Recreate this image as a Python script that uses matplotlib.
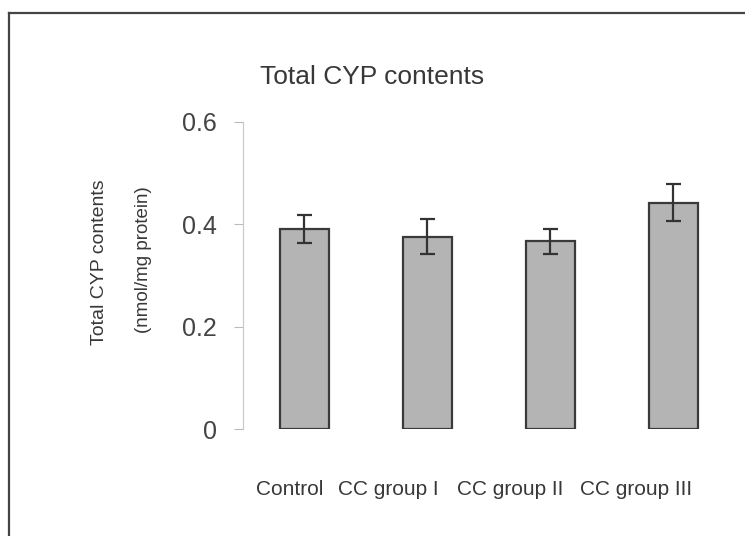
import numpy as np
import matplotlib
matplotlib.use('Agg')
import matplotlib.pyplot as plt
from matplotlib.lines import Line2D

plt.rcParams['font.family'] = ['Liberation Sans', 'DejaVu Sans']

groups = ['Control', 'CC group I', 'CC group II', 'CC group III']
means = [0.391, 0.376, 0.367, 0.442]
errs = [0.028, 0.034, 0.024, 0.036]
yticks = [0, 0.2, 0.4, 0.6]
ytick_labels = ['0', '0.2', '0.4', '0.6']

# label offsets (the category labels sit a bit left of the bars in the original)
label_shift = [-0.12, -0.32, -0.33, -0.30]

txt = '#383838'
fig = plt.figure(figsize=(7.45, 5.36), dpi=100)
ax = fig.add_axes([0.326, 0.1996, 0.6604, 0.5728])

x = np.arange(len(groups))
ax.bar(x, means, width=0.4, color='#b4b4b4', edgecolor='#3a3a3a', linewidth=1.6, zorder=2)
ax.errorbar(x, means, yerr=errs, fmt='none', ecolor='#333333', elinewidth=1.6,
            capsize=5.4, capthick=1.6, zorder=3)

ax.set_xlim(-0.5, 3.5)
ax.set_ylim(0, 0.6)
ax.set_yticks(yticks)
ax.set_yticklabels(ytick_labels, fontsize=18, color='#444444')
ax.tick_params(axis='y', length=6.5, width=0.8, color='#bbbbbb', pad=12)

ax.set_xticks(x + np.array(label_shift))
ax.set_xticklabels(groups, fontsize=15, color=txt)
ax.tick_params(axis='x', length=0, pad=36.5)

for s in ['top', 'right', 'bottom']:
    ax.spines[s].set_visible(False)
ax.spines['left'].set_color('#c8c8c8')
ax.spines['left'].set_linewidth(0.8)

fig.text(0.5, 1 - 77 / 536, 'Total CYP contents', ha='center', va='center',
         fontsize=19, color=txt)
fig.text(99.5 / 745, 1 - 262.5 / 536, 'Total CYP contents', rotation=90,
         ha='center', va='center', fontsize=14, color=txt)
fig.text(143 / 745, 1 - 260 / 536, '(nmol/mg protein)', rotation=90,
         ha='center', va='center', fontsize=13.5, color=txt)

# scanned page frame (top and left edges)
fx = 8.5 / 745
fy = 1 - 12.7 / 536
fig.add_artist(Line2D([fx, fx], [0, fy], transform=fig.transFigure, color='#444444', lw=1.6))
fig.add_artist(Line2D([fx, 1], [fy, fy], transform=fig.transFigure, color='#444444', lw=1.6))

fig.savefig('out.png', dpi=100)
